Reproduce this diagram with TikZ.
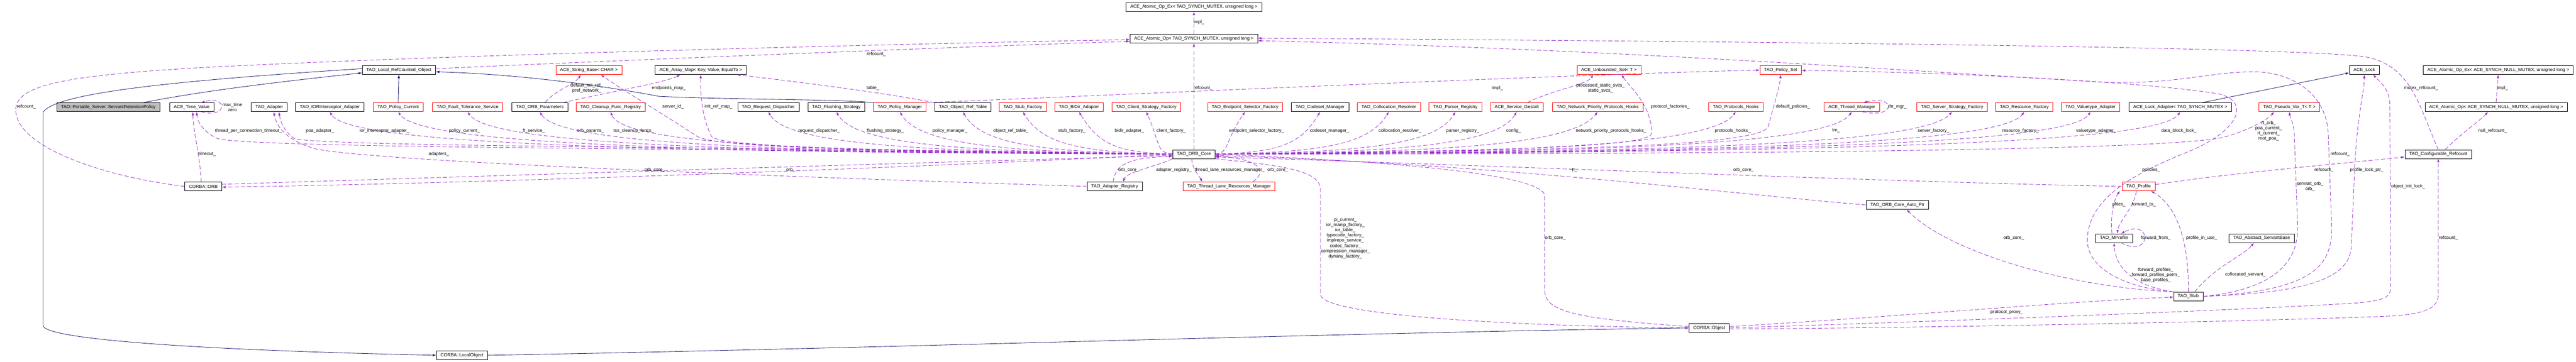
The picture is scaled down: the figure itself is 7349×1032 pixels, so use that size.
\documentclass[tikz,border=0pt]{standalone}
\usepackage{fontspec}
\setmainfont{Liberation Sans}
\usetikzlibrary{arrows.meta}
\definecolor{inhblue}{HTML}{191970}
\definecolor{usepurple}{HTML}{9A32CD}
\definecolor{maingray}{HTML}{BFBFBF}

\begin{document}
\begin{tikzpicture}[x=0.01cm,y=-0.01cm,
  cls/.style={draw,line width=0.3pt,minimum height=0.25cm,inner xsep=0.12cm,inner ysep=0pt,font=\fontsize{3.7}{4.2}\selectfont},
  rcls/.style={cls,draw=red},
  mcls/.style={cls,fill=maingray},
  inh/.style={draw=inhblue,line width=0.35pt,-{Latex[length=0.1cm,width=0.07cm]}},
  mem/.style={draw=usepurple,line width=0.35pt,dash pattern=on 0.12cm off 0.06cm,-{Latex[length=0.1cm,width=0.07cm]}},
  lbl/.style={inner sep=0pt,align=center,font=\fontsize{3.7}{4.2}\selectfont}]
	\useasboundingbox (0,0) rectangle (7349,1032);

	\node [cls] (opex) at (3406,20) {ACE\_Atomic\_Op\_Ex< TAO\_SYNCH\_MUTEX, unsigned long >};
	\node [cls] (opsync) at (3406,110) {ACE\_Atomic\_Op< TAO\_SYNCH\_MUTEX, unsigned long >};

	\node [cls] (lrco) at (1138,200) {TAO\_Local\_RefCounted\_Object};
	\node [rcls] (strbase) at (1680,200) {ACE\_String\_Base< CHAR >};
	\node [cls] (arrmap) at (1999,200) {ACE\_Array\_Map< Key, Value, EqualTo >};
	\node [rcls] (uset) at (4590,200) {ACE\_Unbounded\_Set< T >};
	\node [rcls] (pset) at (5080,200) {TAO\_Policy\_Set};
	\node [cls] (lock) at (6745,200) {ACE\_Lock};
	\node [cls] (nullex) at (7127,200) {ACE\_Atomic\_Op\_Ex< ACE\_SYNCH\_NULL\_MUTEX, unsigned long >};

	\node [mcls] (srp) at (309,306) {TAO::Portable\_Server::ServantRetentionPolicy};
	\node [cls] (tv) at (547,306) {ACE\_Time\_Value};
	\node [cls] (adapter) at (768,306) {TAO\_Adapter};
	\node [cls] (iora) at (941,306) {TAO\_IORInterceptor\_Adapter};
	\node [rcls] (pcur) at (1136,306) {TAO\_Policy\_Current};
	\node [rcls] (fts) at (1334,306) {TAO\_Fault\_Tolerance\_Service};
	\node [cls] (params) at (1540,306) {TAO\_ORB\_Parameters};
	\node [rcls] (cleanup) at (1742,306) {TAO\_Cleanup\_Func\_Registry};
	\node [cls] (rdisp) at (2192,306) {TAO\_Request\_Dispatcher};
	\node [cls] (flush) at (2386,306) {TAO\_Flushing\_Strategy};
	\node [rcls] (pmgr) at (2567,306) {TAO\_Policy\_Manager};
	\node [cls] (ortab) at (2747,306) {TAO\_Object\_Ref\_Table};
	\node [rcls] (stubf) at (2918,306) {TAO\_Stub\_Factory};
	\node [rcls] (bidir) at (3078,306) {TAO\_BiDir\_Adapter};
	\node [rcls] (csf) at (3270,306) {TAO\_Client\_Strategy\_Factory};
	\node [rcls] (esf) at (3552,306) {TAO\_Endpoint\_Selector\_Factory};
	\node [cls] (csm) at (3766,306) {TAO\_Codeset\_Manager};
	\node [rcls] (coll) at (3962,306) {TAO\_Collocation\_Resolver};
	\node [rcls] (parser) at (4152,306) {TAO\_Parser\_Registry};
	\node [rcls] (gestalt) at (4327,306) {ACE\_Service\_Gestalt};
	\node [rcls] (nphooks) at (4558,306) {TAO\_Network\_Priority\_Protocols\_Hooks};
	\node [rcls] (phooks) at (4952,306) {TAO\_Protocols\_Hooks};
	\node [rcls] (thrmgr) at (5283,306) {ACE\_Thread\_Manager};
	\node [rcls] (ssf) at (5569,306) {TAO\_Server\_Strategy\_Factory};
	\node [rcls] (rfac) at (5775,306) {TAO\_Resource\_Factory};
	\node [rcls] (vta) at (5964,306) {TAO\_Valuetype\_Adapter};
	\node [cls] (lockad) at (6220,306) {ACE\_Lock\_Adapter< TAO\_SYNCH\_MUTEX >};
	\node [rcls] (pvar) at (6531,306) {TAO\_Pseudo\_Var\_T< T >};
	\node [cls] (nullop) at (7121,306) {ACE\_Atomic\_Op< ACE\_SYNCH\_NULL\_MUTEX, unsigned long >};

	\node [cls] (core) at (3406,440) {TAO\_ORB\_Core};
	\node [cls] (cref) at (6956,440) {TAO\_Configurable\_Refcount};

	\node [cls] (orb) at (580,532) {CORBA::ORB};
	\node [cls] (areg) at (3180,532) {TAO\_Adapter\_Registry};
	\node [rcls] (tlrm) at (3506,532) {TAO\_Thread\_Lane\_Resources\_Manager};
	\node [rcls] (prof) at (6101,532) {TAO\_Profile};
	\node [cls] (autoptr) at (5413,585) {TAO\_ORB\_Core\_Auto\_Ptr};
	\node [cls] (mprof) at (6031,680) {TAO\_MProfile};
	\node [cls] (asb) at (6452,680) {TAO\_Abstract\_ServantBase};
	\node [cls] (stub) at (6243,846) {TAO\_Stub};
	\node [cls] (obj) at (4876,936) {CORBA::Object};
	\node [cls] (lobj) at (1318,1014) {CORBA::LocalObject};

	\draw [inh] ([xshift=0.99cm]srp.north) .. controls (600,255) and (850,228) .. ([yshift=-0.08cm]lrco.west);
	\draw [inh] ([yshift=0.04cm]lrco.west) .. controls (500,230) and (160,265) .. (123,320) -- (123,930) .. controls (130,965) and (500,998) .. (lobj.west);
	\draw [inh] (pcur.north) -- (lrco.south);
	\draw [inh] (pmgr.north west) .. controls (2400,283) and (2100,285) .. (1880,275) .. controls (1750,250) and (1500,212) .. ([yshift=-0.05cm]lrco.east);
	\draw [inh] (lobj.east) .. controls (2500,995) and (3800,950) .. (obj.west);
	\draw [inh] ([xshift=0.62cm]lockad.north) -- ([yshift=-0.08cm]lock.west);

	\foreach [count=\n] \t/\tx/\l/\lx in {iora/953/ior\_interceptor\_adapter\_/1097, pcur/1156/policy\_current\_/1325, fts/1354/ft\_service\_/1523, params/1553/orb\_params\_/1685, cleanup/1735/tss\_cleanup\_funcs\_/1808, rdisp/2203/request\_dispatcher\_/2337, flush/2397/flushing\_strategy\_/2526, pmgr/2581/policy\_manager\_/2710, ortab/2758/object\_ref\_table\_/2884, stubf/2933/stub\_factory\_/3058, bidir/3094/bidir\_adapter\_/3222, csf/3271/client\_factory\_/3341}{
		\pgfmathsetmacro\cx{\tx+0.35*(3344-\tx)}
		\draw [mem] (core.west) .. controls (\cx,435) and (\tx+40,410) .. (\t.south);
		\node [lbl] (left \n) at (\lx,373) {\l};
	}
	\foreach [count=\n] \t/\tx/\l/\lx in {esf/3530/endpoint\_selector\_factory\_/3585, csm/3752/codeset\_manager\_/3793, coll/3947/collocation\_resolver\_/3994, parser/4139/parser\_registry\_/4173, gestalt/4313/config\_/4318, nphooks/4528/network\_priority\_protocols\_hooks\_/4596, phooks/4925/protocols\_hooks\_/4943, thrmgr/5257/tm\_/5238, ssf/5528/server\_factory\_/5516, rfac/5748/resource\_factory\_/5764, vta/5943/valuetype\_adapter\_/5980, lockad/6197/data\_block\_lock\_/6216}{
		\pgfmathsetmacro\cx{\tx-0.35*(\tx-3468)}
		\draw [mem] (core.east) .. controls (\cx,435) and (\tx-40,410) .. (\t.south);
		\node [lbl] (right \n) at (\lx,373) {\l};
	}

	\draw [mem] (opsync.north) -- (opex.south);
	\node [lbl] (l impl) at (3420,63) {impl\_};
	\draw [mem] (core.north) -- (opsync.south);
	\node [lbl] (l corerc) at (3432,252) {refcount\_};
	\draw [mem] ([yshift=0.04cm]lrco.east) .. controls (1700,175) and (2700,135) .. ([yshift=-0.08cm]opsync.west);
	\node [lbl] (l lrcorc) at (2500,155) {refcount\_};
	\draw [mem] (orb.west) .. controls (300,505) and (40,420) .. (45,310) .. controls (50,240) and (200,215) .. (574,193) .. controls (1300,155) and (2600,125) .. ([yshift=-0.03cm]opsync.west);
	\node [lbl] (l orbrc) at (75,305) {refcount\_};
	\draw [mem] (cref.north) .. controls (6900,300) and (6880,190) .. (6752,163) .. controls (6600,135) and (5000,118) .. ([yshift=0.01cm]opsync.east);
	\node [lbl] (l mutex) at (6907,252) {mutex\_refcount\_};
	\draw [mem] (stub.east) .. controls (6600,830) and (6652,760) .. (6652,650) -- (6642,380) .. controls (6635,260) and (6530,205) .. (6430,205) .. controls (6300,205) and (6220,240) .. (6009,235) .. controls (5400,200) and (4600,140) .. ([yshift=-0.06cm]opsync.east);
	\node [lbl] (l stubrc) at (6676,440) {refcount\_};

	\draw [mem] (stub.north west) .. controls (6050,820) and (5950,760) .. (5955,680) .. controls (5960,560) and (6100,490) .. (6250,430) .. controls (6390,370) and (6420,290) .. (6330,268) .. controls (6100,230) and (5500,205) .. ([yshift=-0.01cm]pset.east);
	\node [lbl] (l policies) at (6137,485) {policies\_};
	\draw [mem] (stub.east) .. controls (6600,835) and (6706,790) .. (6708,700) -- (6718,470) .. controls (6725,330) and (6745,260) .. (lock.south);
	\node [lbl] (l plock) at (6752,485) {profile\_lock\_ptr\_};
	\draw [mem] (obj.east) .. controls (5600,915) and (6400,885) .. (6720,865) .. controls (6800,858) and (6820,850) .. (6820,820) -- (6818,300) .. controls (6816,250) and (6790,235) .. ([xshift=0.25cm]lock.south);
	\node [lbl] (l oilock) at (6870,532) {object\_init\_lock\_};
	\draw [mem] ([yshift=-0.03cm]obj.east) .. controls (5600,935) and (6500,915) .. (6800,903) .. controls (6920,898) and (6956,880) .. (6956,840) -- (cref.south);
	\node [lbl] (l objrc) at (6985,680) {refcount\_};
	\draw [mem] ([yshift=0.04cm]obj.east) .. controls (5400,905) and (5900,860) .. ([yshift=-0.02cm]stub.west);
	\node [lbl] (l proxy) at (5725,891) {protocol\_proxy\_};
	\draw [mem] ([yshift=0.05cm]prof.east) .. controls (6350,495) and (6700,465) .. ([yshift=-0.08cm]cref.west);
	\node [lbl] (l profrc) at (6630,485) {refcount\_};
	\draw [mem] ([xshift=0.2cm]cref.north) .. controls (7010,390) and (7080,340) .. ([xshift=-0.23cm]nullop.south);
	\node [lbl] (l nullrc) at (7111,373) {null\_refcount\_};
	\draw [mem] (nullop.north) -- (nullex.south);
	\node [lbl] (l nullimpl) at (7139,252) {impl\_};

	\draw [mem] (prof.west) .. controls (5400,520) and (4200,470) .. ([yshift=-0.08cm]core.east);
	\node [lbl] (l profcore) at (4974,485) {orb\_core\_};
	\draw [mem] (autoptr.west) .. controls (4900,550) and (4300,470) .. ([yshift=-0.04cm]core.east);
	\node [lbl] (l p) at (4492,485) {p\_};
	\draw [mem] ([yshift=0.04cm]obj.west) .. controls (4500,910) and (4407,890) .. (4407,830) -- (4407,560) .. controls (4407,480) and (3700,450) .. (core.east);
	\node [lbl] (l objcore) at (4437,680) {orb\_core\_};
	\draw [mem] (core.south east) .. controls (3620,470) and (3767,480) .. (3767,540) -- (3767,840) .. controls (3767,900) and (4300,930) .. (obj.west);
	\node [lbl] (l objptrs) at (3838,680) {pi\_current\_\\ior\_manip\_factory\_\\ior\_table\_\\typecode\_factory\_\\implrepo\_service\_\\codec\_factory\_\\compression\_manager\_\\dynany\_factory\_};

	\draw [mem] (stub.north west) .. controls (5900,820) and (5560,720) .. ([xshift=0.26cm]autoptr.south);
	\node [lbl] (l stubcore) at (5745,680) {orb\_core\_};
	\draw [mem] (stub.north) .. controls (6245,700) and (6215,590) .. ([xshift=0.35cm]prof.south);
	\node [lbl] (l inuse) at (6281,680) {profile\_in\_use\_};
	\draw [mem] (stub.north west) .. controls (6080,815) and (6035,760) .. (mprof.south);
	\node [lbl] (l fwd) at (6150,785) {forward\_profiles\_\\forward\_profiles\_perm\_\\base\_profiles\_};
	\draw [mem] ([xshift=-0.06cm]mprof.north) .. controls (6020,620) and (6030,570) .. ([xshift=-0.53cm]prof.south);
	\node [lbl] (l pfiles) at (6045,584) {pfiles\_};
	\draw [mem] ([xshift=-0.06cm]prof.south) .. controls (6085,600) and (6045,630) .. ([xshift=0.09cm]mprof.north);
	\node [lbl] (l fwdto) at (6116,584) {forward\_to\_};
	\draw [mem] ([xshift=0.2cm]mprof.south) .. controls (6140,740) and (6140,620) .. ([xshift=0.2cm]mprof.north);
	\node [lbl] (l fwdfrom) at (6150,680) {forward\_from\_};
	\draw [mem] ([xshift=0.18cm]stub.north) .. controls (6320,760) and (6400,730) .. ([xshift=-0.22cm]asb.south);
	\node [lbl] (l colloc) at (6406,784) {collocated\_servant\_};
	\draw [mem] (stub.east) .. controls (6500,825) and (6555,740) .. (6555,650) -- (6545,380) .. controls (6543,350) and (6533,335) .. (pvar.south);
	\node [lbl] (l sorb) at (6590,532) {servant\_orb\_\\orb\_};
	\draw [mem] (core.east) .. controls (5500,440) and (6250,420) .. (6350,390) .. controls (6420,370) and (6470,340) .. ([xshift=-0.43cm]pvar.south);
	\node [lbl] (l rtorb) at (6472,374) {rt\_orb\_\\poa\_current\_\\rt\_current\_\\root\_poa\_};

	\draw [mem] (core.west) .. controls (2400,430) and (2050,420) .. (1990,390) .. controls (1900,330) and (1780,260) .. ([xshift=0.34cm]strbase.south);
	\node [lbl] (l sid) at (1920,305) {server\_id\_};
	\draw [mem] (core.west) .. controls (2500,430) and (2060,420) .. (2030,390) .. controls (2005,340) and (1998,280) .. (arrmap.south);
	\node [lbl] (l initref) at (2050,305) {init\_ref\_map\_};
	\draw [mem] ([xshift=0.15cm]params.north) .. controls (1580,260) and (1640,240) .. ([xshift=-0.23cm]strbase.south);
	\node [lbl] (l defref) at (1674,252) {default\_init\_ref\_\\pref\_network\_};
	\draw [mem] ([xshift=0.66cm]params.north) .. controls (1750,260) and (1900,235) .. ([xshift=-0.58cm]arrmap.south);
	\node [lbl] (l epmap) at (1908,252) {endpoints\_map\_};
	\draw [mem] (ortab.north west) .. controls (2500,260) and (2200,225) .. ([xshift=1.03cm]arrmap.south);
	\node [lbl] (l table) at (2490,252) {table\_};
	\draw [mem] (pmgr.north east) .. controls (3100,275) and (4400,215) .. (pset.west);
	\node [lbl] (l pmimpl) at (4272,252) {impl\_};
	\draw [mem] ([xshift=0.3cm]gestalt.north) .. controls (4420,260) and (4530,240) .. ([xshift=-0.45cm]uset.south);
	\node [lbl] (l svcs) at (4566,252) {processed\_static\_svcs\_\\static\_svcs\_};
	\draw [mem] (core.east) .. controls (4300,430) and (4712,420) .. (4712,380) .. controls (4712,300) and (4650,250) .. ([xshift=0.36cm]uset.south);
	\node [lbl] (l pfact) at (4765,305) {protocol\_factories\_};
	\draw [mem] (core.east) .. controls (4400,430) and (5030,420) .. (5045,360) .. controls (5060,300) and (5077,250) .. (pset.south);
	\node [lbl] (l defpol) at (5115,305) {default\_policies\_};
	\draw [mem] ([xshift=0.3cm]thrmgr.south) .. controls (5410,340) and (5410,270) .. ([xshift=0.33cm]thrmgr.north);
	\node [lbl] (l thrmgr) at (5413,305) {thr\_mgr\_};

	\draw [mem] (core.west) .. controls (2300,425) and (700,425) .. (620,395) .. controls (585,380) and (563,350) .. ([xshift=0.14cm]tv.south);
	\node [lbl] (l tpct) at (709,373) {thread\_per\_connection\_timeout\_};
	\draw [mem] ([xshift=-0.06cm]orb.north) .. controls (570,440) and (552,380) .. ([xshift=0.03cm]tv.south);
	\node [lbl] (l timeout) at (591,440) {timeout\_};
	\draw [mem] ([xshift=0.27cm]tv.south) .. controls (650,340) and (650,270) .. ([xshift=0.27cm]tv.north);
	\node [lbl] (l maxtime) at (663,306) {max\_time\\zero};
	\draw [mem] (core.west) .. controls (2300,420) and (900,420) .. (840,395) .. controls (815,380) and (800,350) .. ([xshift=0.28cm]adapter.south);
	\node [lbl] (l poa) at (913,373) {poa\_adapter\_};
	\draw [mem] (areg.west) .. controls (2400,510) and (1100,465) .. (900,425) .. controls (830,405) and (790,370) .. ([xshift=0.13cm]adapter.south);
	\node [lbl] (l adapters) at (1252,440) {adapters\_};
	\draw [mem] (core.west) .. controls (2600,480) and (1300,525) .. ([yshift=-0.02cm]orb.east);
	\node [lbl] (l orb) at (2256,485) {orb\_};
	\draw [mem] ([yshift=0.06cm]orb.east) .. controls (1300,505) and (2600,465) .. ([yshift=-0.04cm]core.west);
	\node [lbl] (l orbcore) at (1868,485) {orb\_core\_};

	\draw [mem] (core.south west) .. controls (3300,475) and (3215,490) .. ([xshift=0.24cm]areg.north);
	\node [lbl] (l areg) at (3349,485) {adapter\_registry\_};
	\draw [mem] ([xshift=-0.04cm]areg.north) .. controls (3180,470) and (3220,450) .. ([yshift=-0.06cm]core.west);
	\node [lbl] (l aregcore) at (3220,485) {orb\_core\_};
	\draw [mem] ([xshift=-0.06cm]core.south) .. controls (3400,480) and (3420,500) .. ([xshift=-0.76cm]tlrm.north);
	\node [lbl] (l tlrm) at (3508,485) {thread\_lane\_resources\_manager\_};
	\draw [mem] ([xshift=0.68cm]tlrm.north) .. controls (3615,490) and (3600,455) .. ([yshift=-0.05cm]core.east);
	\node [lbl] (l tlrmcore) at (3645,485) {orb\_core\_};

\end{tikzpicture}
\end{document}
